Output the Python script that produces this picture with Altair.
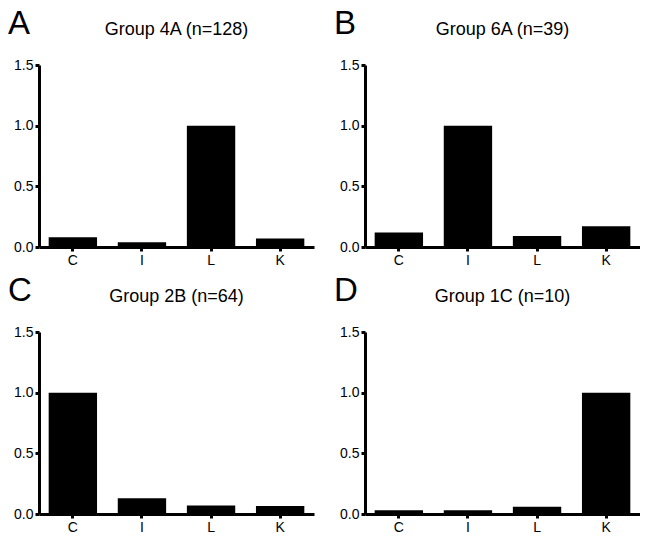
import altair as alt
import pandas as pd

categories = ["C", "I", "L", "K"]
letters = ["A", "B", "C", "D"]
group_titles = ["Group 4A (n=128)", "Group 6A (n=39)", "Group 2B (n=64)", "Group 1C (n=10)"]
values_4A = [0.08, 0.04, 1.0, 0.07]
values_6A = [0.12, 1.0, 0.09, 0.17]
values_2B = [1.0, 0.13, 0.07, 0.065]
values_1C = [0.03, 0.03, 0.06, 1.0]
y_ticks = [0.0, 0.5, 1.0, 1.5]

FONT = "Liberation Sans"
W, H = 275, 182


def panel(letter, title, values):
    df = pd.DataFrame({"category": categories, "value": values})
    bars = alt.Chart(df).mark_bar(color="black").encode(
        x=alt.X("category:N", sort=categories,
                scale=alt.Scale(paddingInner=0.3, paddingOuter=0.14),
                axis=alt.Axis(title=None, labelAngle=0)),
        y=alt.Y("value:Q", scale=alt.Scale(domain=[0, 1.5], nice=False),
                axis=alt.Axis(title=None, values=y_ticks, format=".1f")),
    )
    ttl = alt.Chart(pd.DataFrame({"t": [title]})).mark_text(
        font=FONT, fontSize=18, align="center", baseline="alphabetic", color="black"
    ).encode(text="t:N", x=alt.value(W / 2), y=alt.value(-30))
    let = alt.Chart(pd.DataFrame({"t": [letter]})).mark_text(
        font=FONT, fontSize=33, align="left", baseline="top", color="black"
    ).encode(text="t:N", x=alt.value(-31), y=alt.value(-57))
    return alt.layer(bars, ttl, let).properties(width=W, height=H)


panels = [panel(l, t, v) for l, t, v in zip(letters, group_titles,
                                             [values_4A, values_6A, values_2B, values_1C])]

chart = alt.vconcat(
    alt.hconcat(panels[0], panels[1], spacing=20),
    alt.hconcat(panels[2], panels[3], spacing=20),
    spacing=8,
).properties(padding=0).configure_view(strokeWidth=0).configure_axis(
    domainColor="black", domainWidth=3, tickColor="black", tickWidth=3, tickSize=4,
    labelFont=FONT, labelFontSize=14, labelColor="black", labelPadding=2, grid=False,
)

chart.save("out.html", embed_options={"renderer": "svg", "actions": False})
